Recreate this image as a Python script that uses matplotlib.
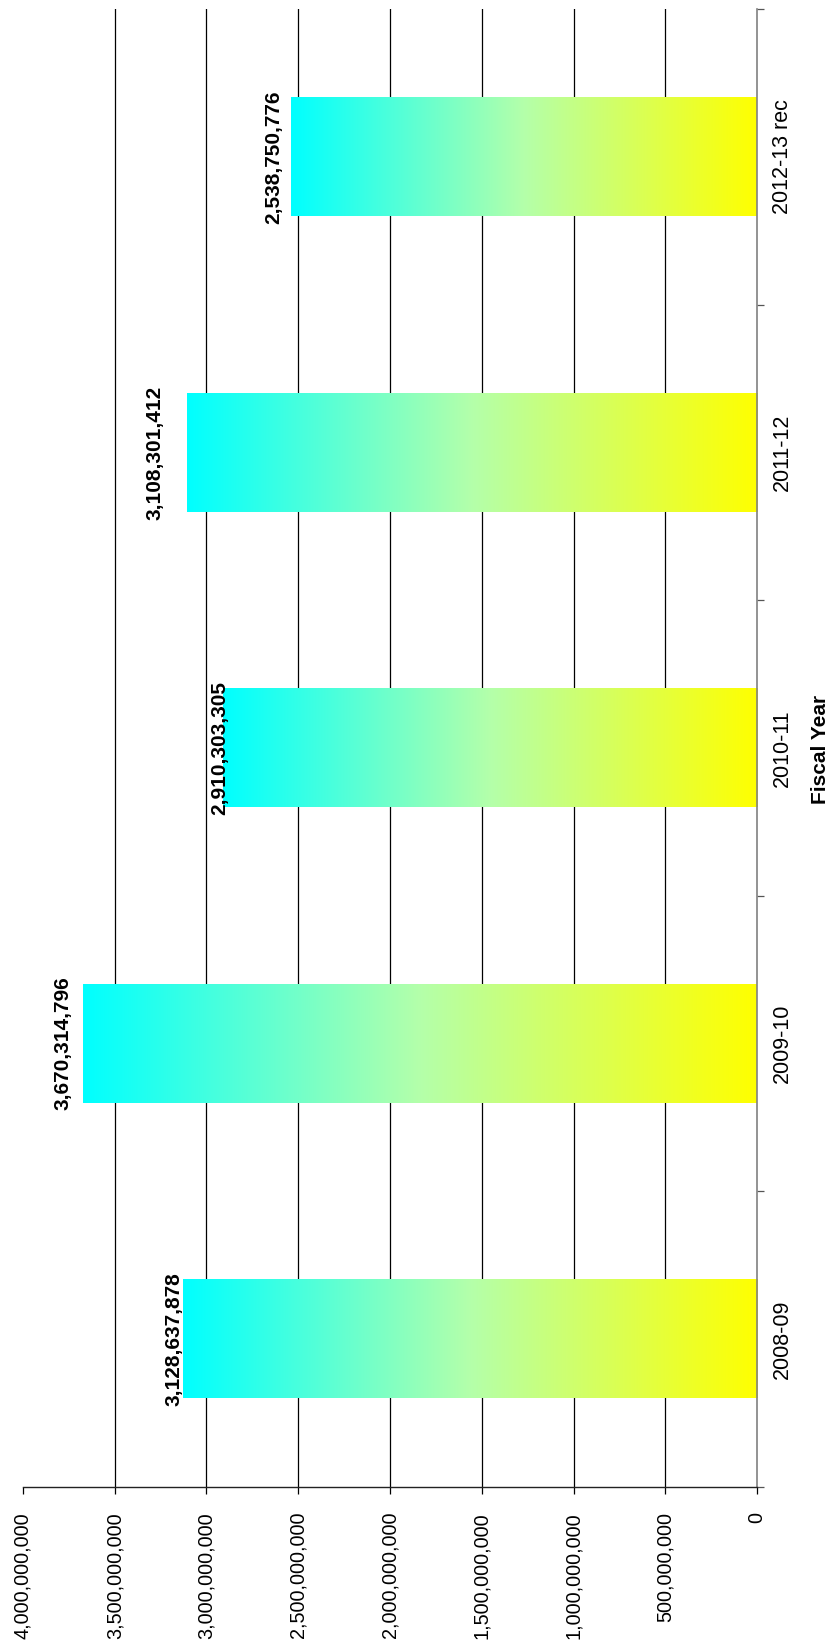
import numpy as np
import matplotlib
matplotlib.use("Agg")
import matplotlib.pyplot as plt
from matplotlib.colors import LinearSegmentedColormap
from matplotlib.ticker import FuncFormatter, MultipleLocator

plt.rcParams['font.family'] = ['Liberation Sans', 'DejaVu Sans']

YEARS = ["2008-09", "2009-10", "2010-11", "2011-12", "2012-13 rec"]
AMOUNTS = [3128637878, 3670314796, 2910303305, 3108301412, 2538750776]
VALUE_TICKS = np.arange(0, 4000000001, 500000000)

# label nudges (pixels, left of the bar end)
LABEL_DX = [-9, -20, -3, -32, -17]

BAR_W = 0.4
grad_cmap = LinearSegmentedColormap.from_list(
    "cy", [(0.0, "#00FFFF"), (0.5, "#B4FFAA"), (1.0, "#FFFF00")])

fig = plt.figure(figsize=(8.32, 16.5), dpi=100)
ax = fig.add_axes([23 / 832, 1 - 1487 / 1650, 734 / 832, 1478 / 1650])

ypos = np.arange(len(YEARS))
grad = np.linspace(0, 1, 256).reshape(1, -1)

# gridlines behind the bars (none on the outer value)
for v in VALUE_TICKS[1:-1]:
    ax.axvline(v, color="black", lw=0.9, zorder=0)

for y, val, dx in zip(ypos, AMOUNTS, LABEL_DX):
    ax.imshow(grad, cmap=grad_cmap, aspect="auto", interpolation="bilinear",
              extent=[val, 0, y - BAR_W / 2, y + BAR_W / 2], zorder=2)
    ax.annotate(f"{val:,}", xy=(val, y), xytext=(dx, 0),
                textcoords="offset pixels", rotation=90,
                ha="center", va="center", fontsize=15,
                fontweight="bold", zorder=3)

ax.set_xlim(4000000000, 0)
ax.set_ylim(-0.5, len(YEARS) - 0.5)

ax.set_xticks(VALUE_TICKS)
ax.xaxis.set_major_formatter(FuncFormatter(lambda v, p: f"{int(v):,}"))
ax.tick_params(axis="x", direction="out", length=5, width=0.9,
               labelsize=14.3, labelrotation=90, pad=13)
for lab in ax.get_xticklabels():
    lab.set_va("top")

ax.yaxis.tick_right()
ax.set_yticks(ypos)
ax.set_yticklabels(YEARS)
ax.yaxis.set_minor_locator(MultipleLocator(1, offset=0.5))
ax.tick_params(axis="y", which="major", length=0, labelsize=15.5,
               labelrotation=90, pad=10.5)
ax.tick_params(axis="y", which="minor", direction="out", length=5,
               width=0.9, color="#555555")
for lab in ax.get_yticklabels():
    lab.set_va("center")
    lab.set_ha("left")

for side in ("top", "left"):
    ax.spines[side].set_visible(False)
ax.spines["bottom"].set_color("#222222")
ax.spines["bottom"].set_linewidth(1.0)
ax.spines["right"].set_color("#808080")
ax.spines["right"].set_linewidth(1.2)

fig.text(820 / 832, 1 - 749 / 1650, "Fiscal Year", rotation=90,
         ha="center", va="center", fontsize=15, fontweight="bold")

fig.savefig("out.png", dpi=100)
